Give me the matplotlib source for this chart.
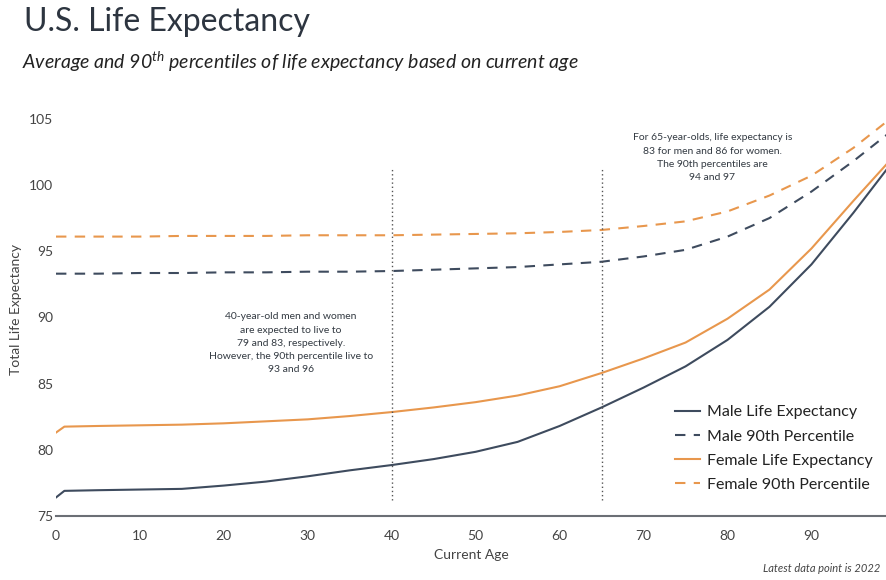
import matplotlib
matplotlib.use('Agg')
import matplotlib.pyplot as plt

plt.rcParams['font.family'] = ['Lato', 'DejaVu Sans']
plt.rcParams['mathtext.fontset'] = 'custom'
plt.rcParams['mathtext.rm'] = 'Lato'
plt.rcParams['mathtext.it'] = 'Lato:italic'

# Values
ages = [0, 1, 5, 10, 15, 20, 25, 30, 35, 40, 45, 50, 55, 60, 65, 70, 75, 80, 85, 90, 95, 99]
male_le = [76.4, 76.9, 76.95, 77.0, 77.05, 77.3, 77.6, 78.0, 78.45, 78.85, 79.3, 79.85, 80.6, 81.8, 83.2, 84.7, 86.3, 88.3, 90.8, 94.0, 97.9, 101.2]
male_p90 = [93.3, 93.3, 93.3, 93.35, 93.35, 93.4, 93.4, 93.45, 93.45, 93.5, 93.6, 93.7, 93.8, 94.0, 94.2, 94.6, 95.1, 96.1, 97.5, 99.5, 101.8, 103.8]
female_le = [81.3, 81.75, 81.8, 81.85, 81.9, 82.0, 82.15, 82.3, 82.55, 82.85, 83.2, 83.6, 84.1, 84.8, 85.8, 86.9, 88.1, 89.9, 92.1, 95.2, 98.8, 101.6]
female_p90 = [96.1, 96.1, 96.1, 96.1, 96.15, 96.15, 96.15, 96.2, 96.2, 96.2, 96.25, 96.3, 96.35, 96.45, 96.6, 96.9, 97.25, 98.0, 99.2, 100.7, 102.8, 104.8]

markers_at = [40, 65]
x_ticks = [0, 10, 20, 30, 40, 50, 60, 70, 80, 90]
y_ticks = [75, 80, 85, 90, 95, 100, 105]

male_color = '#3e4b5e'
female_color = '#e8974d'
text_color = '#333a42'

fig = plt.figure(figsize=(8.87, 5.8), dpi=100)
ax = fig.add_axes([0.0631, 0.1103, 0.9369, 0.685])

ax.plot(ages, male_le, color=male_color, lw=1.5, label='Male Life Expectancy')
ax.plot(ages, male_p90, color=male_color, lw=1.5, ls=(0, (5, 4)), label='Male 90th Percentile')
ax.plot(ages, female_le, color=female_color, lw=1.5, label='Female Life Expectancy')
ax.plot(ages, female_p90, color=female_color, lw=1.5, ls=(0, (5, 4)), label='Female 90th Percentile')

for a in markers_at:
    ax.vlines(a, 76.2, 101.3, color='#555555', lw=1, linestyles=(0, (1, 2)))

ax.text(28, 88.05, '40-year-old men and women\nare expected to live to\n79 and 83, respectively.\n'
        'However, the 90th percentile live to\n93 and 96',
        ha='center', va='center', fontsize=7.5, color=text_color, linespacing=1.6)
ax.text(78.2, 102.05, 'For 65-year-olds, life expectancy is\n83 for men and 86 for women.\n'
        'The 90th percentiles are\n94 and 97',
        ha='center', va='center', fontsize=7.5, color=text_color, linespacing=1.6)

ax.set_xlim(0, 99)
ax.set_ylim(75, 105)
ax.set_xticks(x_ticks)
ax.set_yticks(y_ticks)
ax.tick_params(length=0, labelsize=10, colors='#444444')
ax.tick_params(axis='x', pad=10)
ax.tick_params(axis='y', pad=2)
for s in ['top', 'right', 'left']:
    ax.spines[s].set_visible(False)
ax.spines['bottom'].set_color('#6b6f75')
ax.spines['bottom'].set_linewidth(1.5)

ax.set_xlabel('Current Age', fontsize=10, color='#444444', labelpad=5)
fig.text(16 / 887, 0.466, 'Total Life Expectancy', fontsize=10, color='#444444',
         rotation=90, ha='center', va='center')

leg = ax.legend(loc='lower right', bbox_to_anchor=(1.0, 0.025), frameon=False, fontsize=11.5,
                handlelength=1.6, handletextpad=0.4, labelspacing=0.62, labelcolor='#222222')

fig.text(0.027, 0.962, 'U.S. Life Expectancy', fontsize=23, color='#2d3540', va='center')
fig.text(0.025, 0.893, 'Average and 90$^{th}$ percentiles of life expectancy based on current age',
         fontsize=14, style='italic', color='#222222', va='center')
fig.text(0.993, 0.01, 'Latest data point is 2022', fontsize=8, style='italic', color='#444444',
         ha='right', va='bottom')

fig.savefig('out.png', dpi=100)
